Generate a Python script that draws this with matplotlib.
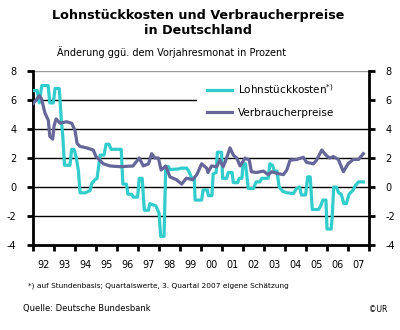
import matplotlib
matplotlib.use("Agg")
import matplotlib.pyplot as plt
from matplotlib.patches import Rectangle

plt.rcParams['axes.unicode_minus'] = False
plt.rcParams['font.family'] = ['DejaVu Sans']

# Lohnstückkosten (quarterly, stepped)
lsk_t = [1992.00, 1992.20, 1992.30, 1992.42, 1992.72, 1992.80, 1992.97, 1993.05, 1993.25, 1993.35,
         1993.42, 1993.50, 1993.76, 1993.84, 1993.95, 1994.05, 1994.16, 1994.24, 1994.50, 1994.62,
         1994.72, 1994.80, 1994.95, 1995.05, 1995.20, 1995.38, 1995.48, 1995.62, 1995.72, 1996.20,
         1996.28, 1996.45, 1996.52, 1996.70, 1996.78, 1996.98, 1997.06, 1997.20, 1997.30, 1997.50,
         1997.56, 1997.85, 1998.00, 1998.08, 1998.24, 1998.32, 1998.45, 1998.52, 1998.95, 1999.05,
         1999.32, 1999.45, 1999.55, 1999.68, 1999.72, 2000.03, 2000.10, 2000.30, 2000.35, 2000.52,
         2000.58, 2000.72, 2000.78, 2000.98, 2001.03, 2001.22, 2001.30, 2001.48, 2001.54, 2001.75,
         2001.82, 2001.95, 2002.00, 2002.12, 2002.25, 2002.50, 2002.62, 2002.80, 2002.90, 2003.20,
         2003.28, 2003.40, 2003.50, 2003.62, 2003.72, 2003.90, 2004.10, 2004.40, 2004.55, 2004.70,
         2004.78, 2004.98, 2005.08, 2005.20, 2005.30, 2005.60, 2005.70, 2005.80, 2005.95, 2006.00,
         2006.20, 2006.25, 2006.32, 2006.45, 2006.55, 2006.68, 2006.80, 2006.92, 2007.05, 2007.25,
         2007.35, 2007.50, 2007.73]
lsk_v = [6.65, 6.65, 5.8, 7.0, 7.0, 5.8, 5.8, 6.8, 6.8, 4.6,
         3.5, 1.5, 1.5, 2.6, 2.6, 2.1, 1.15, -0.4, -0.4, -0.3,
         -0.25, 0.25, 0.5, 0.6, 2.2, 2.2, 2.95, 2.95, 2.6, 2.6,
         0.2, 0.2, -0.5, -0.5, -0.7, -0.7, 0.6, 0.6, -1.6, -1.6,
         -1.15, -1.3, -1.8, -3.4, -3.4, 1.4, 1.4, 1.2, 1.25, 1.3,
         1.3, 1.0, 0.6, 0.6, -0.9, -0.9, -0.2, -0.2, -0.6, -0.6,
         0.9, 1.0, 2.4, 2.4, 0.6, 0.6, 1.0, 1.0, 0.3, 0.3,
         0.6, 0.6, 1.6, 1.6, -0.1, -0.1, 0.35, 0.35, 0.6, 0.6,
         1.6, 1.5, 1.1, 1.1, 0.0, -0.3, -0.4, -0.45, -0.1, 0.0,
         -0.55, -0.55, 0.7, 0.7, -1.55, -1.55, -1.3, -0.9, -0.9, -2.9,
         -2.9, -2.0, 0.0, 0.0, -0.4, -0.5, -1.15, -1.15, -0.5, -0.2,
         0.1, 0.35, 0.35]

# Verbraucherpreise (monthly)
vpi_t = [1992.00, 1992.15, 1992.30, 1992.40, 1992.57, 1992.73, 1992.80, 1992.94, 1993.00, 1993.10,
         1993.29, 1993.60, 1993.84, 1994.00, 1994.10, 1994.24, 1994.55, 1994.87, 1995.00, 1995.35,
         1995.67, 1996.14, 1996.76, 1997.06, 1997.25, 1997.50, 1997.65, 1997.80, 1997.97, 1998.10,
         1998.32, 1998.52, 1998.84, 1999.08, 1999.30, 1999.48, 1999.60, 1999.80, 2000.03, 2000.27,
         2000.33, 2000.50, 2000.75, 2000.90, 2001.06, 2001.22, 2001.38, 2001.54, 2001.70, 2001.86,
         2002.10, 2002.30, 2002.40, 2002.65, 2002.97, 2003.20, 2003.37, 2003.60, 2003.92, 2004.08,
         2004.24, 2004.56, 2004.87, 2005.03, 2005.35, 2005.50, 2005.75, 2005.98, 2006.14, 2006.30,
         2006.54, 2006.78, 2007.00, 2007.25, 2007.50, 2007.73]
vpi_v = [5.75, 6.0, 6.3, 6.1, 5.1, 4.6, 3.5, 3.3, 4.2, 4.7,
         4.4, 4.5, 4.4, 3.9, 3.0, 2.8, 2.7, 2.55, 2.1, 1.6,
         1.45, 1.4, 1.45, 2.0, 1.45, 1.6, 2.3, 2.0, 2.0, 1.17,
         1.45, 0.7, 0.5, 0.2, 0.6, 0.55, 0.5, 0.85, 1.6, 1.3,
         1.0, 1.45, 1.4, 1.85, 1.4, 2.0, 2.7, 2.2, 2.0, 1.45,
         2.0, 1.85, 1.05, 1.0, 1.1, 0.85, 1.05, 0.95, 0.85, 1.15,
         1.85, 1.9, 2.05, 1.7, 1.6, 1.85, 2.55, 2.15, 2.0, 2.1,
         1.9, 1.05, 1.6, 1.9, 1.9, 2.3]

years = list(range(1992, 2008))
year_labels = ['92', '93', '94', '95', '96', '97', '98', '99',
               '00', '01', '02', '03', '04', '05', '06', '07']
yticks = [-4, -2, 0, 2, 4, 6, 8]

CYAN = '#33CCCC'
PURPLE = '#666699'

fig = plt.figure(figsize=(4.0, 3.3), dpi=100)
ax = fig.add_axes([33/400, 1 - 245/330, (369 - 33)/400, (245 - 71)/330])

ax.set_xlim(1992, 2008)
ax.set_ylim(-4, 8)

# gridlines
for yv in yticks:
    if yv == -4:
        continue
    ax.axhline(yv, color='#999999' if yv == 8 else 'black', lw=1.0, zorder=1)

# white legend area covering part of the 6 gridline
ax.add_patch(Rectangle((1999.8, 4.4), 8.5, 3.45, facecolor='white', edgecolor='none', zorder=2))

ax.plot(lsk_t, lsk_v, color=CYAN, lw=2.3, zorder=3, label='Lohnstückkosten$^{*)}$')
ax.plot(vpi_t, vpi_v, color=PURPLE, lw=2.3, zorder=4, label='Verbraucherpreise')

leg = ax.legend(loc='upper left', bbox_to_anchor=(0.49, 0.99), frameon=False,
                fontsize=7.5, handlelength=2.4, handletextpad=0.6, labelspacing=1.15)

ax.spines['top'].set_visible(False)
for s in ['left', 'right', 'bottom']:
    ax.spines[s].set_linewidth(2)
    ax.spines[s].set_color('black')

ax.set_yticks(yticks)
ax.set_yticklabels([str(v) for v in yticks])
ax.tick_params(axis='y', which='major', left=True, right=True, labelleft=True, labelright=True,
               direction='out', length=4, width=2, labelsize=7, pad=8)

ax.set_xticks(years + [2008])
ax.set_xticklabels([])
ax.set_xticks([y + 0.5 for y in years], minor=True)
ax.set_xticklabels(year_labels, minor=True)
ax.tick_params(axis='x', which='major', direction='out', length=4, width=2)
ax.tick_params(axis='x', which='minor', length=0, labelsize=7, pad=11)

fig.text(0.495, 1 - 23/330, 'Lohnstückkosten und Verbraucherpreise\nin Deutschland',
         ha='center', va='center', fontsize=9.2, fontweight='bold', linespacing=1.1)
fig.text(0.43, 1 - 52/330, 'Änderung ggü. dem Vorjahresmonat in Prozent',
         ha='center', va='center', fontsize=7)
fig.text(28/400, 1 - 286/330, '*) auf Stundenbasis; Quartalswerte, 3. Quartal 2007 eigene Schätzung',
         ha='left', va='center', fontsize=5.3)
fig.text(23/400, 1 - 309/330, 'Quelle: Deutsche Bundesbank', ha='left', va='center', fontsize=6)
fig.text(369/400, 1 - 309/330, '©UR', ha='left', va='center', fontsize=5.5)

fig.savefig('out.png', dpi=100)
